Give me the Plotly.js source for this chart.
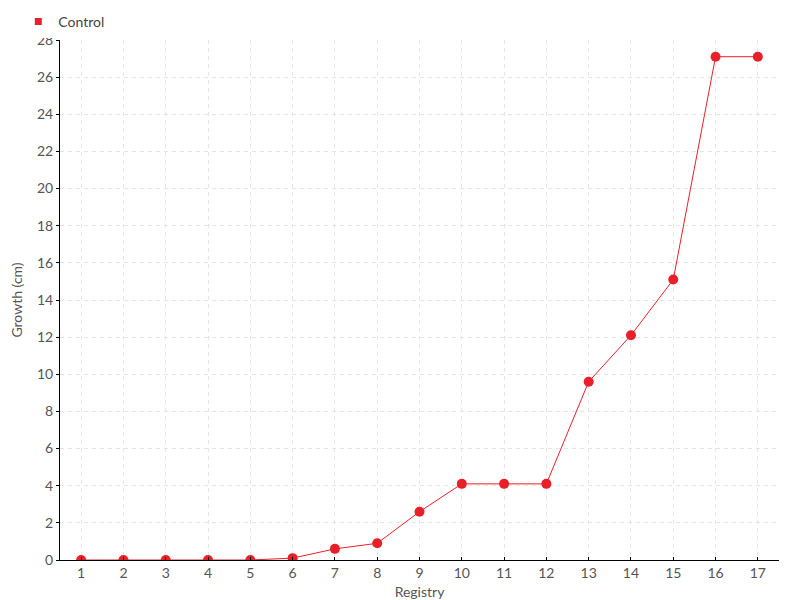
<!DOCTYPE html>
<html>
<head>
<meta charset="utf-8">
<script src="https://cdn.plot.ly/plotly-3.0.1.min.js"></script>
<style>html,body{margin:0;padding:0;background:#fff;}#chart{width:800px;height:600px;}</style>
</head>
<body>
<div id="chart"></div>
<script>
const registry = [1,2,3,4,5,6,7,8,9,10,11,12,13,14,15,16,17];
const growth = [0,0,0,0,0,0.1,0.6,0.9,2.6,4.1,4.1,4.1,9.6,12.1,15.1,27.1,27.1];
const seriesName = 'Control';
const red = '#e8202a';
const fontFam = 'Lato, "Open Sans", sans-serif';

const traces = [
  {x: registry, y: growth, type: 'scatter', mode: 'lines+markers', name: seriesName,
   line: {color: red, width: 1}, marker: {color: red, size: 10}, showlegend: false},
  {x: [null], y: [null], type: 'scatter', mode: 'markers', name: seriesName,
   marker: {color: red, size: 7, symbol: 'square'}, showlegend: true}
];
const layout = {
  width: 800, height: 600,
  margin: {l: 60, r: 21, t: 40, b: 40, autoexpand: false},
  paper_bgcolor: '#fff', plot_bgcolor: '#fff',
  font: {family: fontFam, size: 14, color: '#555'},
  showlegend: true,
  legend: {x: -0.058, y: 1.035, xanchor: 'left', yanchor: 'middle', font: {size: 14, color: '#444'}, itemwidth: 30},
  xaxis: {
    range: [0.5, 17.5], tickmode: 'array', tickvals: registry, ticktext: registry.map(String),
    showgrid: true, gridcolor: '#e4e4e4', griddash: '4px,4px', gridwidth: 1,
    showline: true, linecolor: '#000', linewidth: 1, zeroline: false,
    ticks: 'inside', ticklen: 3, tickcolor: '#000',
    title: {text: 'Registry', font: {size: 14, color: '#555'}},
    tickfont: {size: 14, color: '#555'}
  },
  yaxis: {
    range: [0, 28], dtick: 2, tick0: 0,
    showgrid: true, gridcolor: '#e4e4e4', griddash: '4px,4px', gridwidth: 1,
    showline: true, linecolor: '#000', linewidth: 1, zeroline: false,
    ticks: 'outside', ticklen: 3, tickcolor: '#000',
    title: {text: 'Growth (cm)', font: {size: 14, color: '#555'}},
    tickfont: {size: 14, color: '#555'}
  }
};
Plotly.newPlot('chart', traces, layout, {displayModeBar: false});
</script>
</body>
</html>
